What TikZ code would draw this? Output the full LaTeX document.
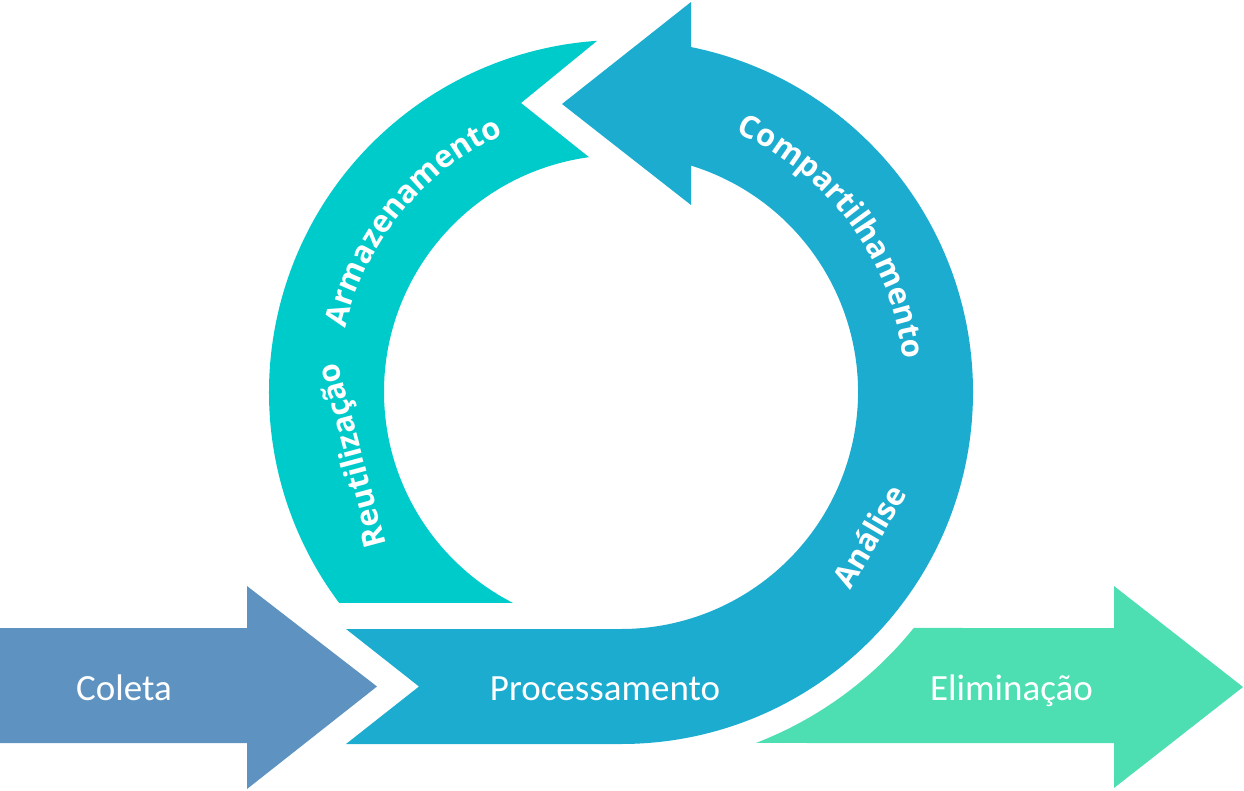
\documentclass[tikz,border=0pt]{standalone}
\usepackage{fontspec}
\usetikzlibrary{calc,decorations.text}
\newfontfamily\straightfont{Carlito}
\newfontfamily\curvefont{Open Sans}
\newcommand\curvestyle{\curvefont\bfseries\fontsize{23.25}{28}\selectfont\color{white}}
\definecolor{coletac}{HTML}{5E93C1}
\definecolor{bluec}{HTML}{1BACD0}
\definecolor{tealc}{HTML}{00CBCB}
\definecolor{elimc}{HTML}{4DDFB2}
\tikzset{
  straightlbl/.style={text=white, font=\straightfont\fontsize{27.75}{33}\selectfont, inner sep=0pt},
  curvelbl/.style={text=white, font=\curvestyle, inner sep=0pt}
}
\begin{document}
\begin{tikzpicture}[x=0.75pt,y=0.75pt]
\useasboundingbox (0,0) rectangle (1244,790);
\coordinate (C) at (621,398);
% teal arc (Armazenamento / Reutilizacao)
\fill[tealc] ($(C)+({180+asin(211/352)}:352)$) arc[start angle={180+asin(211/352)}, end angle=93.9, radius=352]
  -- (521,687) -- ($(C)+(97.75:237)$) arc[start angle=97.75, end angle={180+asin(211/237)}, radius=237] -- cycle;
% blue arc (Compartilhamento / Analise / Processamento)
\fill[bluec] (691,788) -- (562,686) -- (691,585) -- ($(C)+({acos(70/237)}:237)$)
  arc[start angle={acos(70/237)}, end angle=-90, radius=237]
  -- (346,161) -- (419,103.5) -- (346,46) -- ($(C)+(-90:352)$)
  arc[start angle=-90, end angle={acos(70/352)}, radius=352] -- cycle;
% Coleta arrow
\fill[coletac] (0,162) -- (247,162) -- (247,204) -- (377,103.5) -- (247,1) -- (247,47) -- (0,47) -- cycle;
% Eliminacao arrow
\fill[elimc] (1114,162) -- (1114,204) -- (1243,103) -- (1114,2) -- (1114,47)
  -- ($(C)+({-asin(351/376)}:376)$) arc[start angle={-asin(351/376)}, end angle={-asin(236/376)}, radius=376] -- cycle;
% straight labels
\node[straightlbl, anchor=base] (coleta) at (124,90) {Coleta};
\node[straightlbl, anchor=base] (proc) at (605,90) {Processamento};
\node[straightlbl, anchor=base] (elim) at (1011.5,90) {Eliminação};
% rotated labels
\node[curvelbl, rotate=105] (reut) at (354,335) {Reutilização};
\node[curvelbl, rotate=59.5] (analise) at (869,254) {Análise};
% curved labels
\path[decorate, decoration={text along path, text align=center, text={|\curvestyle|Armazenamento}}]
  ($(C)+(200.8:283)$) arc[start angle=200.8, end angle=80.8, radius=283];
\path[decorate, decoration={text along path, text align=center, text={|\curvestyle|Compartilhamento}}]
  ($(C)+(96.4:284)$) arc[start angle=96.4, end angle=-23.6, radius=284];
\end{tikzpicture}
\end{document}
